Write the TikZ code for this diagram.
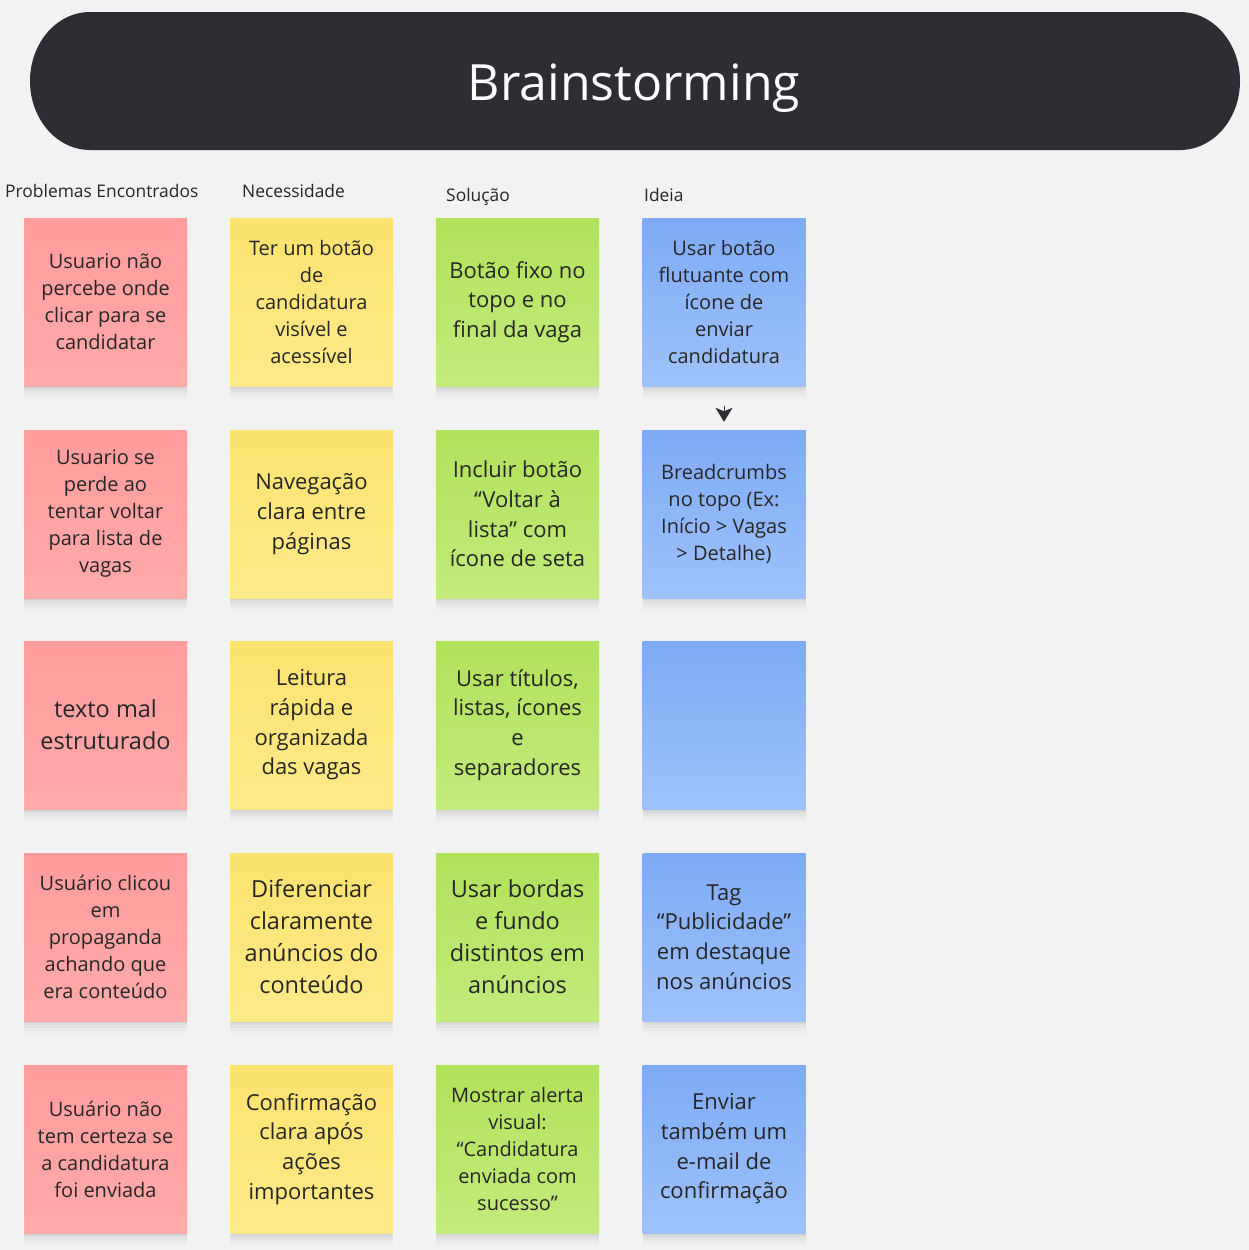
\documentclass[tikz,border=0pt]{standalone}
\usepackage{fontspec}
\setmainfont{Open Sans}
\usepackage{tikz}
\usetikzlibrary{arrows.meta}
\usepackage{xcolor}
\definecolor{BoardBg}{RGB}{242,242,242}
\definecolor{BarDark}{RGB}{45,46,52}
\definecolor{InkDark}{RGB}{38,38,38}
\definecolor{RedTop}{RGB}{255,156,156}
\definecolor{RedBot}{RGB}{255,170,170}
\definecolor{YelTop}{RGB}{252,226,110}
\definecolor{YelBot}{RGB}{255,234,138}
\definecolor{GrnTop}{RGB}{176,226,90}
\definecolor{GrnBot}{RGB}{194,235,124}
\definecolor{BluTop}{RGB}{126,171,245}
\definecolor{BluBot}{RGB}{158,194,250}

\begin{document}
\begin{tikzpicture}[x=1pt,y=-1pt,
  note/.style={minimum width=163pt,minimum height=168pt,inner sep=0pt,
               align=center,text=InkDark,
               preaction={fill=black,fill opacity=0.03,transform canvas={yshift=-2pt}},
               preaction={fill=black,fill opacity=0.03,transform canvas={yshift=-4pt}},
               preaction={fill=black,fill opacity=0.025,transform canvas={yshift=-7pt}},
               preaction={fill=black,fill opacity=0.02,transform canvas={yshift=-10pt}},
               preaction={fill=black,fill opacity=0.015,transform canvas={yshift=-13pt}}},
  rednote/.style={note,top color=RedTop,bottom color=RedBot},
  yelnote/.style={note,top color=YelTop,bottom color=YelBot},
  grnnote/.style={note,top color=GrnTop,bottom color=GrnBot},
  blunote/.style={note,top color=BluTop,bottom color=BluBot},
  txtS/.style={font=\fontsize{20}{27}\selectfont},
  txtM/.style={font=\fontsize{22}{29.7}\selectfont},
  txtL/.style={font=\fontsize{23.5}{32}\selectfont},
  colhead/.style={anchor=base west,inner sep=0pt,text=InkDark,
                  font=\fontsize{17.4}{20}\selectfont},
]
\fill[BoardBg] (0,0) rectangle (1249,1250);
\useasboundingbox (0,0) rectangle (1249,1250);
\fill[BarDark] (90,12) -- (1180,12)
  arc[start angle=-90,end angle=90,x radius=60,y radius=69]
  -- (90,150) arc[start angle=90,end angle=270,x radius=60,y radius=69] -- cycle;
\node[anchor=base,text=white,font=\fontsize{50}{60}\selectfont] (title) at (634,100) {Brainstorming};
\node[colhead] (hprob) at (5,197) {Problemas Encontrados};
\node[colhead] (hnec) at (242,197) {Necessidade};
\node[colhead] (hsol) at (446,201) {Solução};
\node[colhead] (hidea) at (644,201) {Ideia};
\node[rednote,txtS] (prob1) at (105.5,302) {Usuario não\\percebe onde\\clicar para se\\candidatar};
\node[rednote,txtS] (prob2) at (105.5,514) {Usuario se\\perde ao\\tentar voltar\\para lista de\\vagas};
\node[rednote,txtL] (prob3) at (105.5,725) {texto mal\\estruturado};
\node[rednote,txtS] (prob4) at (105.5,937) {Usuário clicou\\em\\propaganda\\achando que\\era conteúdo};
\node[rednote,txtS] (prob5) at (105.5,1149) {Usuário não\\tem certeza se\\a candidatura\\foi enviada};
\node[yelnote,txtS] (nec1) at (311.5,302) {Ter um botão\\de\\candidatura\\visível e\\acessível};
\node[yelnote,txtM] (nec2) at (311.5,514) {Navegação\\clara entre\\páginas};
\node[yelnote,txtM] (nec3) at (311.5,725) {Leitura\\rápida e\\organizada\\das vagas};
\node[yelnote,txtL] (nec4) at (311.5,937) {Diferenciar\\claramente\\anúncios do\\conteúdo};
\node[yelnote,txtM] (nec5) at (311.5,1149) {Confirmação\\clara após\\ações\\importantes};
\node[grnnote,txtM] (sol1) at (517.5,302) {Botão fixo no\\topo e no\\final da vaga};
\node[grnnote,txtM] (sol2) at (517.5,514) {Incluir botão\\“Voltar à\\lista” com\\ícone de seta};
\node[grnnote,txtM] (sol3) at (517.5,725) {Usar títulos,\\listas, ícones\\e\\separadores};
\node[grnnote,txtL] (sol4) at (517.5,937) {Usar bordas\\e fundo\\distintos em\\anúncios};
\node[grnnote,txtS] (sol5) at (517.5,1149) {Mostrar alerta\\visual:\\“Candidatura\\enviada com\\sucesso”};
\node[blunote,txtS] (idea1) at (724,302) {Usar botão\\flutuante com\\ícone de\\enviar\\candidatura};
\node[blunote,txtS] (idea2) at (724,514) {Breadcrumbs\\no topo (Ex:\\Início > Vagas\\> Detalhe)};
\node[blunote,txtS] (idea3) at (724,725) {};
\node[blunote,txtM] (idea4) at (724,937) {Tag\\“Publicidade”\\em destaque\\nos anúncios};
\node[blunote,txtM] (idea5) at (724,1149) {Enviar\\também um\\e-mail de\\confirmação};
\draw[-{Stealth[length=14pt,width=17pt,inset=3.5pt]},BarDark,line width=1pt,
  shorten <=20pt,shorten >=8pt]
  (idea1.south) -- (idea2.north);
\end{tikzpicture}
\end{document}
